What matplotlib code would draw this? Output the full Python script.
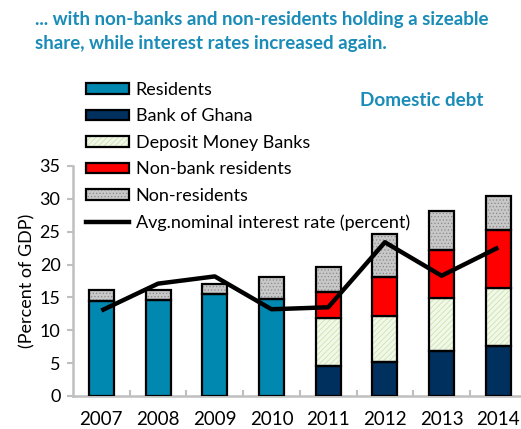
import matplotlib
matplotlib.use('Agg')
import matplotlib.pyplot as plt
from matplotlib.patches import Patch
from matplotlib.lines import Line2D
import numpy as np

plt.rcParams['font.family'] = ['Lato', 'DejaVu Sans']
plt.rcParams['hatch.linewidth'] = 0.5

years = ['2007', '2008', '2009', '2010', '2011', '2012', '2013', '2014']
residents = [14.4, 14.6, 15.5, 14.7, 0, 0, 0, 0]
bank_of_ghana = [0, 0, 0, 0, 4.6, 5.2, 6.9, 7.6]
deposit_banks = [0, 0, 0, 0, 7.2, 6.9, 8.0, 8.8]
nonbank_res = [0, 0, 0, 0, 4.1, 6.0, 7.3, 8.8]
non_residents = [1.8, 1.6, 1.5, 3.4, 3.7, 6.5, 5.9, 5.2]
interest_rate = [13.0, 17.1, 18.2, 13.2, 13.5, 23.4, 18.3, 22.6]

teal = '#1a8cb8'
W, H = 521, 429
fig = plt.figure(figsize=(W / 100, H / 100), dpi=100)
ax = fig.add_axes([73 / W, 1 - 396 / H, (521 - 73) / W, 230 / H])

x = np.arange(len(years))
width = 0.44
bottom = np.zeros(len(years))
handles = []
series = [
    (residents, '#0088b0', None, 'Residents'),
    (bank_of_ghana, '#00305e', None, 'Bank of Ghana'),
    (deposit_banks, '#f2f8e8', '//////', 'Deposit Money Banks'),
    (nonbank_res, '#ff0000', None, 'Non-bank residents'),
    (non_residents, '#c8c8c8', '.....', 'Non-residents'),
]
hatch_edge = {'//////': '#c4e0a8', '.....': '#8a8a8a'}
for vals, col, hatch, lab in series:
    vals = np.array(vals)
    mask = vals > 0
    if hatch:
        ax.bar(x[mask], vals[mask], width, bottom=bottom[mask], color=col,
               hatch=hatch, edgecolor=hatch_edge[hatch], linewidth=0, zorder=2)
        ax.bar(x[mask], vals[mask], width, bottom=bottom[mask], fill=False,
               edgecolor='black', linewidth=1.6, zorder=3)
        h = (Patch(facecolor=col, hatch=hatch, edgecolor=hatch_edge[hatch], linewidth=0),
             Patch(fill=False, edgecolor='black', linewidth=1.6))
    else:
        ax.bar(x[mask], vals[mask], width, bottom=bottom[mask], color=col,
               edgecolor='black', linewidth=1.6, zorder=3)
        h = Patch(facecolor=col, edgecolor='black', linewidth=1.6)
    handles.append(h)
    bottom = bottom + vals

ax.plot(x, interest_rate, color='black', linewidth=3.2, zorder=4,
        solid_capstyle='butt')
handles.append(Line2D([], [], color='black', linewidth=3.2))
labels = [s[3] for s in series] + ['Avg.nominal interest rate (percent)']

ax.set_xlim(-0.5, 7.4)
ax.set_ylim(0, 35)
ax.set_yticks(range(0, 36, 5))
ax.set_xticks(x)
ax.set_xticklabels(years)
ax.set_xticks(np.arange(0.5, 7, 1), minor=True)
for s in ['top', 'right']:
    ax.spines[s].set_visible(False)
for s in ['left', 'bottom']:
    ax.spines[s].set_color('#bfbfbf')
    ax.spines[s].set_linewidth(1.8)
ax.tick_params(axis='y', length=4, width=1.5, color='#bfbfbf', labelsize=13, pad=5)
ax.tick_params(axis='x', which='major', length=0, labelsize=13.5, pad=11)
ax.tick_params(axis='x', which='minor', length=4, width=1.5, color='#bfbfbf', direction='in')
ax.set_ylabel('(Percent of GDP)', fontsize=13, labelpad=3)

leg = fig.legend(handles, labels, loc='upper left', bbox_to_anchor=(86 / W, 1 - 82 / H),
                 frameon=False, fontsize=13, handlelength=2.4, handleheight=0.5,
                 handletextpad=0.35, labelspacing=0.58, borderpad=0, borderaxespad=0)

fig.text(35 / W, 1 - 20 / H, '... with non-banks and non-residents holding a sizeable',
         color=teal, fontsize=13.5, fontweight='bold', va='center', ha='left')
fig.text(35 / W, 1 - 44 / H, 'share, while interest rates increased again.',
         color=teal, fontsize=13.5, fontweight='bold', va='center', ha='left')
fig.text(483 / W, 1 - 100 / H, 'Domestic debt', color=teal, fontsize=13.6,
         fontweight='bold', va='center', ha='right')

fig.savefig('out.png', dpi=100)
